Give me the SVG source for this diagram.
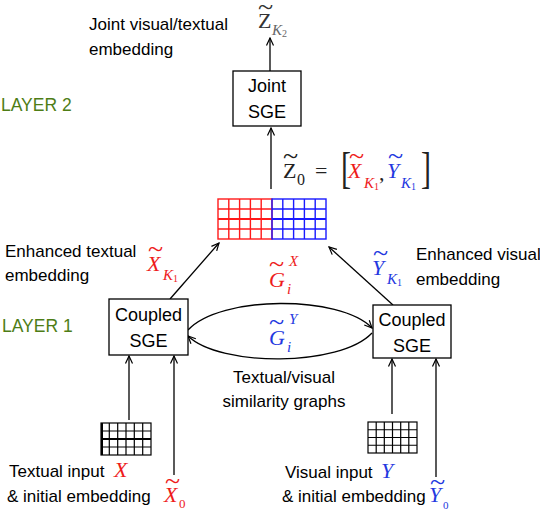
<svg xmlns="http://www.w3.org/2000/svg" width="540" height="512" viewBox="0 0 540 512">
<defs>
<style>
.lbl{font-family:"Liberation Sans",Arial,sans-serif;font-size:17px;fill:#000}
.box{fill:#fff;stroke:#000;stroke-width:1.3}
.bt{font-family:"Liberation Sans",Arial,sans-serif;font-size:18px;fill:#000;text-anchor:middle}
.layer{font-family:"Liberation Sans",Arial,sans-serif;font-size:17.5px;fill:#4e7d16}
.mt{font-family:"Liberation Serif","Times New Roman",serif;font-size:22px}
.it{font-style:italic}
.sub{font-style:italic;font-size:15px}
.sn{font-size:10px;font-style:normal}
.til{font-size:28px;font-style:normal}
.red{fill:#ee1c1c}
.blue{fill:#2438e0}
.conn{fill:none;stroke:#000;stroke-width:1.3;marker-end:url(#ah)}
.gr{fill:none;stroke:#000;stroke-width:1.2}
.gred{fill:none;stroke:#ff1a1a;stroke-width:1.4}
.gblue{fill:none;stroke:#1a1aff;stroke-width:1.4}
</style>
<marker id="ah" markerWidth="10" markerHeight="10" refX="0" refY="0" viewBox="-9 -5 10 10" orient="auto" markerUnits="userSpaceOnUse">
<path d="M-7.5,-3.5 L0,0 L-7.5,3.5" fill="none" stroke="#000" stroke-width="1.2"/>
</marker>
</defs>
<rect width="540" height="512" fill="#fff"/>

<g id="connectors">
<line class="conn" x1="270" y1="71" x2="270" y2="38"/>
<line class="conn" x1="271" y1="189" x2="271" y2="128"/>
<line class="conn" x1="170" y1="299" x2="219" y2="243"/>
<line class="conn" x1="393" y1="305" x2="329" y2="247"/>
<path class="conn" d="M188,330 C220,295 340,295 372,328"/>
<path class="conn" d="M372,333 C340,367 220,367 188,336"/>
<line class="conn" x1="129" y1="420" x2="129" y2="356"/>
<line class="conn" x1="174" y1="475" x2="174" y2="356"/>
<line class="conn" x1="392" y1="414" x2="392" y2="359"/>
<line class="conn" x1="436" y1="477" x2="436" y2="359"/>
</g>

<g id="layers">
<text class="layer" x="1" y="111">LAYER 2</text>
<text class="layer" x="2" y="332">LAYER 1</text>
</g>

<g id="joint-sge">
<rect class="box" x="233" y="71" width="68" height="55"/>
<text class="bt" x="267" y="92">Joint</text>
<text class="bt" x="267" y="118">SGE</text>
</g>

<g id="joint-output">
<text class="lbl" x="89" y="30">Joint visual/textual</text>
<text class="lbl" x="89" y="55">embedding</text>
<text class="mt" fill="#333"><tspan class="til" x="258" y="16">~</tspan><tspan x="258" y="28">Z</tspan><tspan class="sub" x="272" y="35" fill="#666">K</tspan><tspan class="sn" dy="2" fill="#666">2</tspan></text>
</g>

<g id="concat-matrix">
<g class="gred">
<rect x="218" y="199" width="54" height="40"/>
<path d="M228.8,199V239M239.6,199V239M250.4,199V239M261.2,199V239M218,209H272M218,229H272"/>
<path d="M218,219H272" stroke-width="2"/>
</g>
<g class="gblue">
<rect x="272" y="199" width="54" height="40"/>
<path d="M282.8,199V239M293.6,199V239M304.4,199V239M315.2,199V239M272,209H326M272,229H326"/>
<path d="M272,219H326" stroke-width="2"/>
</g>
<text class="mt" fill="#222"><tspan class="til" x="283" y="165">~</tspan><tspan x="283" y="178">Z</tspan><tspan x="297" y="185" style="font-size:16px">0</tspan><tspan x="315" y="178">=</tspan></text>
<text class="mt" fill="#222" transform="translate(341,183) scale(1,1.45)" style="font-size:30px">[</text>
<text class="mt red"><tspan class="til" x="349" y="165">~</tspan><tspan class="it" x="348" y="178">X</tspan><tspan class="sub" x="364" y="188">K</tspan><tspan class="sn" dy="2">1</tspan></text>
<text class="mt" fill="#222" x="379" y="180">,</text>
<text class="mt blue"><tspan class="til" x="388" y="165">~</tspan><tspan class="it" x="387" y="178">Y</tspan><tspan class="sub" x="401" y="188">K</tspan><tspan class="sn" dy="2">1</tspan></text>
<text class="mt" fill="#222" transform="translate(421,183) scale(1,1.45)" style="font-size:30px">]</text>
</g>

<g id="coupled-sge-text">
<rect class="box" x="109" y="299" width="79" height="56"/>
<text class="bt" x="148.5" y="321">Coupled</text>
<text class="bt" x="148.5" y="347">SGE</text>
</g>

<g id="coupled-sge-visual">
<rect class="box" x="373" y="305" width="78" height="53"/>
<text class="bt" x="412" y="326">Coupled</text>
<text class="bt" x="412" y="352">SGE</text>
</g>

<g id="enhanced-textual">
<text class="lbl" x="5" y="257">Enhanced textual</text>
<text class="lbl" x="5" y="281">embedding</text>
<text class="mt red"><tspan class="til" x="148" y="258">~</tspan><tspan class="it" x="147" y="271">X</tspan><tspan class="sub" x="163" y="280">K</tspan><tspan class="sn" dy="2">1</tspan></text>
</g>

<g id="enhanced-visual">
<text class="lbl" x="416" y="260">Enhanced visual</text>
<text class="lbl" x="416" y="285">embedding</text>
<text class="mt blue"><tspan class="til" x="373" y="262">~</tspan><tspan class="it" x="372" y="275">Y</tspan><tspan class="sub" x="387" y="284">K</tspan><tspan class="sn" dy="2">1</tspan></text>
</g>

<g id="graphs">
<text class="mt red"><tspan class="til" x="269" y="273">~</tspan><tspan class="it" x="269" y="287">G</tspan><tspan class="sub" x="289" y="266">X</tspan><tspan class="sub" x="287" y="294">i</tspan></text>
<text class="mt blue"><tspan class="til" x="269" y="331">~</tspan><tspan class="it" x="269" y="345">G</tspan><tspan class="sub" x="289" y="324">Y</tspan><tspan class="sub" x="287" y="352">i</tspan></text>
<text class="lbl" x="284" y="383" text-anchor="middle">Textual/visual</text>
<text class="lbl" x="284" y="407" text-anchor="middle">similarity graphs</text>
</g>

<g id="textual-input">
<g class="gr">
<rect x="101" y="423" width="50" height="32"/>
<path d="M109.3,423V455M117.7,423V455M126,423V455M134.3,423V455M142.7,423V455M101,431H151M101,447H151"/>
<path d="M101,439H151M102,423V455" stroke-width="2"/>
</g>
<text class="lbl" x="9" y="477">Textual input</text>
<text class="mt it red" x="114" y="477">X</text>
<text class="lbl" x="7" y="502">&amp; initial embedding</text>
<text class="mt red"><tspan class="til" x="165" y="490">~</tspan><tspan class="it" x="164" y="502">X</tspan><tspan x="179" y="508" style="font-size:13px">0</tspan></text>
</g>

<g id="visual-input">
<g class="gr">
<rect x="368" y="422" width="49" height="31"/>
<path d="M376.2,422V453M384.3,422V453M392.5,422V453M400.7,422V453M408.8,422V453M368,429.75H417M368,437.5H417M368,445.25H417"/>
</g>
<text class="lbl" x="285" y="478">Visual input</text>
<text class="mt it blue" x="381" y="478">Y</text>
<text class="lbl" x="282" y="502">&amp; initial embedding</text>
<text class="mt blue"><tspan class="til" x="430" y="491">~</tspan><tspan class="it" x="429" y="502">Y</tspan><tspan x="443" y="509" style="font-size:11px">0</tspan></text>
</g>
</svg>
